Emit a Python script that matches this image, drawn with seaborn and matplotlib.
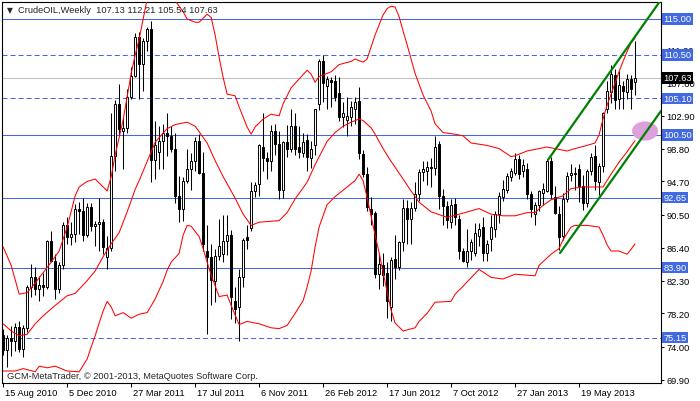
import numpy as np
import pandas as pd
import seaborn as sns
import matplotlib.pyplot as plt
from matplotlib import transforms
from matplotlib.patches import Ellipse

SYMBOL = 'CrudeOIL,Weekly'
FIRST_WEEK = '2010-08-15'

# weekly candles, one value per week starting at FIRST_WEEK
OPEN = [75.5, 73.6, 75.1, 74.7, 76.5, 73.8, 76.4, 81.5, 82.7, 81.3,
        81.8, 81.5, 87.2, 84.8, 81.3, 84.2, 89.2, 87.7, 88.1, 91.3,
        91.0, 88.0, 91.5, 89.1, 89.4, 89.6, 85.3, 86.4, 97.9, 104.4,
        101.0, 101.4, 105.3, 107.9, 112.8, 109.4, 112.3, 113.8, 97.4, 98.4,
        99.8, 100.8, 100.4, 98.8, 92.9, 91.3, 94.8, 96.2, 97.3, 99.8,
        95.8, 86.0, 85.3, 82.3, 85.4, 85.6, 87.2, 88.0, 79.8, 79.0,
        82.7, 87.8, 88.9, 93.5, 94.4, 99.0, 97.6, 97.2, 101.0, 99.4,
        93.6, 99.6, 98.8, 101.6, 99.0, 98.2, 99.9, 97.6, 99.2, 104.4,
        109.8, 106.6, 107.4, 107.2, 105.8, 102.8, 102.4, 102.8, 103.8, 104.8,
        98.1, 95.6, 91.3, 90.8, 83.1, 84.2, 83.2, 79.0, 85.0, 84.0,
        87.1, 91.4, 90.0, 91.4, 93.1, 95.9, 96.0, 96.5, 96.4, 99.4,
        92.9, 91.6, 89.6, 91.9, 90.0, 86.0, 84.6, 86.0, 85.8, 87.9,
        89.0, 85.8, 87.5, 88.8, 90.6, 92.8, 93.6, 95.2, 95.8, 97.5,
        96.0, 96.2, 93.1, 90.6, 91.7, 93.3, 93.5, 97.3, 92.7, 90.6,
        87.9, 92.5, 95.5, 95.6, 96.2, 94.1, 92.0, 96.0, 97.9, 94.6,
        96.6, 103.8, 105.9, 108.0, 105.0, 106.6, 105.9, 107.5, 107.13]
HIGH = [76.2, 75.5, 76.6, 77.0, 77.3, 76.8, 81.8, 84.4, 84.0, 82.9,
        83.3, 87.4, 88.5, 85.6, 84.6, 89.6, 90.2, 89.6, 91.9, 92.1,
        92.6, 92.0, 92.0, 89.8, 92.6, 90.0, 87.9, 103.3, 104.9, 106.9,
        102.6, 106.3, 109.0, 113.2, 113.4, 112.6, 114.0, 114.8, 102.3, 101.6,
        101.9, 103.3, 101.6, 100.8, 95.4, 95.2, 98.8, 98.2, 100.2, 100.6,
        98.4, 89.2, 86.9, 86.2, 90.0, 90.5, 90.5, 88.6, 81.5, 83.7,
        87.6, 89.2, 94.6, 94.6, 99.4, 103.2, 98.4, 101.8, 101.9, 101.0,
        99.8, 101.8, 103.7, 103.2, 101.6, 100.8, 100.6, 99.8, 103.8, 110.0,
        110.5, 107.9, 107.8, 108.0, 107.7, 104.6, 105.2, 104.8, 105.2, 106.5,
        98.6, 96.5, 92.7, 91.0, 85.8, 85.8, 84.6, 85.2, 88.0, 87.3,
        92.5, 92.4, 92.1, 94.6, 96.2, 97.3, 97.2, 97.6, 100.4, 99.8,
        93.8, 92.3, 92.5, 92.6, 90.5, 86.4, 88.8, 87.5, 89.5, 89.5,
        90.3, 87.4, 90.5, 91.0, 93.4, 94.9, 95.8, 96.4, 98.2, 98.0,
        97.5, 97.0, 93.5, 92.1, 93.6, 94.5, 97.5, 97.8, 94.1, 91.6,
        93.3, 95.9, 96.9, 96.5, 96.9, 95.5, 96.3, 98.3, 99.2, 97.0,
        103.4, 107.3, 109.3, 108.7, 108.5, 107.3, 108.1, 108.0, 112.21]
LOW = [73.0, 71.5, 72.9, 73.5, 73.4, 72.8, 75.9, 80.2, 80.5, 79.8,
       80.4, 81.3, 84.6, 80.0, 80.8, 83.8, 86.9, 86.7, 87.1, 88.1,
       87.2, 87.7, 88.5, 86.6, 86.0, 85.6, 83.8, 86.0, 96.0, 100.5,
       96.3, 100.8, 105.0, 107.7, 105.0, 106.0, 111.0, 94.6, 95.0, 96.3,
       96.3, 97.9, 98.4, 92.0, 89.6, 89.8, 94.5, 93.6, 96.0, 95.6,
       86.0, 75.6, 79.2, 79.6, 84.9, 84.6, 85.5, 77.5, 77.0, 74.8,
       81.5, 86.2, 88.5, 92.8, 92.9, 96.0, 95.0, 96.0, 98.0, 92.5,
       92.6, 97.8, 98.4, 98.0, 97.6, 97.7, 96.0, 96.4, 98.0, 103.6,
       104.6, 103.8, 104.0, 104.8, 102.3, 101.5, 100.4, 101.6, 101.9, 97.5,
       95.3, 91.0, 89.2, 82.6, 81.2, 81.6, 77.6, 77.3, 82.5, 83.6,
       86.0, 86.9, 86.9, 91.0, 92.2, 94.8, 94.3, 94.0, 95.5, 91.2,
       89.3, 88.9, 88.9, 89.2, 85.0, 84.6, 84.0, 84.9, 85.4, 86.6,
       84.7, 84.7, 86.0, 87.7, 89.5, 92.2, 93.2, 94.8, 95.5, 95.0,
       95.3, 92.5, 90.3, 89.3, 91.0, 91.8, 93.4, 92.5, 90.6, 86.1,
       87.4, 92.1, 94.7, 93.6, 92.1, 91.1, 91.5, 95.5, 93.6, 93.0,
       95.9, 103.2, 104.5, 103.8, 103.8, 103.8, 105.0, 103.7, 105.54]
CLOSE = [73.6, 75.1, 74.7, 76.5, 73.8, 76.4, 81.5, 82.7, 81.3, 81.8,
         81.5, 87.2, 84.8, 81.3, 84.2, 89.2, 87.7, 88.1, 91.3, 91.0,
         88.0, 91.5, 89.1, 89.4, 89.6, 86.5, 86.4, 97.9, 104.4, 101.2,
         101.4, 105.3, 107.9, 112.8, 109.4, 112.3, 113.8, 97.4, 99.3, 99.8,
         100.8, 100.4, 98.8, 92.9, 91.3, 94.8, 96.2, 97.3, 99.8, 95.8,
         86.9, 85.3, 82.4, 85.4, 86.6, 87.2, 88.0, 80.2, 78.8, 82.7,
         87.4, 87.4, 93.5, 94.3, 99.2, 97.6, 97.2, 101.0, 99.4, 93.6,
         99.6, 98.8, 101.6, 98.7, 98.4, 99.6, 97.7, 98.8, 103.8, 109.8,
         107.0, 107.5, 107.1, 105.3, 102.8, 103.3, 102.9, 104.0, 104.6, 98.3,
         95.6, 91.5, 90.6, 83.1, 84.4, 83.0, 79.8, 84.9, 84.0, 87.1,
         91.4, 90.0, 91.4, 93.1, 95.9, 96.2, 96.5, 96.4, 99.0, 92.9,
         91.6, 89.9, 91.7, 90.2, 86.0, 84.8, 86.0, 87.1, 88.3, 88.8,
         85.8, 86.9, 89.0, 90.6, 92.9, 93.7, 95.4, 96.0, 97.5, 95.6,
         96.8, 93.1, 91.2, 91.8, 93.5, 93.7, 97.3, 93.1, 90.8, 87.8,
         92.5, 95.4, 95.8, 95.8, 94.1, 92.0, 96.0, 97.7, 94.8, 96.6,
         103.2, 106.0, 108.1, 104.9, 106.8, 106.0, 107.5, 106.3, 107.63]

# envelope (upper / middle / lower), read at selected weeks
UPPER_WEEK = [0, 2, 4, 6, 8, 10, 12, 14, 16, 18, 19, 21, 23, 24, 26, 27, 28, 30, 32, 33,
              34, 35, 36, 38, 40, 42, 43, 45, 46, 48, 49, 51, 52, 53, 54, 55, 56, 58, 59, 61,
              62, 63, 65, 67, 69, 70, 72, 74, 76, 77, 78, 79, 82, 84, 87, 88, 90, 91, 92, 93,
              95, 96, 97, 98, 99, 100, 101, 103, 105, 107, 108, 110, 113, 115, 117, 121, 124, 127, 128, 131,
              136, 141, 143, 146, 148, 149, 150, 151, 152, 153, 154, 155, 156, 157, 158]
UPPER_PRICE = [86.5, 84.2, 80.6, 80.8, 82.0, 83.3, 84.6, 86.0, 89.0, 92.9, 94.0, 94.7, 95.0, 94.5, 93.5, 95.3, 98.0, 102.4, 108.2, 110.5,
               112.5, 115.0, 117.5, 119.5, 120.5, 118.8, 117.3, 115.9, 115.0, 114.6, 114.6, 115.6, 115.2, 113.0, 110.2, 107.7, 105.6, 105.4, 104.0, 101.5,
               100.6, 101.5, 102.5, 103.1, 102.9, 104.4, 106.4, 107.5, 108.6, 108.1, 107.1, 107.8, 108.4, 109.3, 109.7, 110.0, 109.6, 110.0, 111.5, 113.0,
               115.5, 116.3, 116.6, 116.5, 115.3, 113.5, 111.8, 108.2, 105.5, 103.5, 101.9, 100.8, 100.6, 100.4, 99.5, 99.2, 98.8, 97.8, 97.9, 98.5,
               99.0, 98.5, 98.8, 99.2, 99.5, 100.5, 102.5, 104.2, 105.6, 107.0, 108.4, 109.7, 110.9, 112.0, 112.6]
MIDDLE_WEEK = [0, 2, 4, 6, 8, 10, 13, 16, 18, 21, 23, 25, 27, 29, 31, 33, 34, 36, 38, 41,
               43, 46, 48, 49, 51, 53, 54, 55, 57, 58, 60, 62, 64, 69, 71, 73, 76, 78, 81, 83,
               85, 87, 89, 90, 92, 93, 95, 97, 100, 102, 103, 104, 107, 111, 114, 119, 122, 125, 128, 131,
               133, 135, 137, 140, 142, 145, 148, 150, 152, 154, 156, 158]
MIDDLE_PRICE = [76.9, 76.0, 75.4, 75.6, 76.9, 77.9, 79.2, 80.4, 80.7, 82.3, 83.5, 85.3, 86.9, 88.3, 90.9, 93.7, 94.8, 97.2, 99.6, 101.3,
                101.8, 102.1, 101.6, 100.9, 99.5, 97.3, 96.3, 95.3, 93.5, 92.6, 90.6, 89.2, 89.6, 89.8, 90.8, 92.5, 94.6, 96.8, 99.7, 100.8,
                101.6, 102.1, 102.5, 102.3, 101.4, 100.6, 98.8, 97.2, 95.0, 93.5, 92.8, 92.1, 90.9, 90.2, 90.6, 91.3, 90.6, 90.4, 90.4, 90.8,
                90.8, 91.7, 92.4, 92.9, 93.8, 94.0, 94.0, 94.0, 95.6, 97.1, 98.4, 99.8]
LOWER_WEEK = [0, 3, 5, 8, 9, 11, 13, 16, 19, 21, 22, 23, 24, 25, 26, 27, 28, 30, 32, 34,
              36, 38, 40, 41, 42, 44, 45, 46, 47, 49, 50, 51, 52, 54, 56, 57, 59, 61, 64, 67,
              69, 71, 73, 75, 76, 77, 78, 79, 81, 83, 85, 88, 89, 90, 91, 93, 94, 96, 97, 98,
              100, 103, 104, 106, 108, 112, 113, 115, 119, 122, 125, 128, 133, 134, 137, 139, 140, 142, 143, 146,
              149, 150, 151, 152, 154, 156, 157, 158]
LOWER_PRICE = [71.0, 71.0, 71.3, 70.9, 71.6, 71.4, 71.6, 71.0, 70.9, 72.5, 74.0, 75.4, 77.0, 78.5, 79.7, 79.0, 77.9, 78.3, 77.6, 78.1,
               78.3, 80.0, 82.2, 83.6, 84.6, 85.7, 88.0, 89.2, 89.1, 87.8, 86.3, 84.6, 83.0, 80.3, 80.5, 79.2, 76.8, 77.2, 76.9, 76.4,
               76.3, 76.7, 78.2, 79.8, 81.5, 83.5, 86.5, 89.0, 91.8, 92.8, 93.6, 94.8, 95.6, 94.8, 92.7, 88.0, 85.8, 80.9, 78.6, 77.0,
               76.0, 76.4, 77.2, 78.2, 79.6, 79.7, 80.6, 81.6, 83.7, 82.7, 82.5, 83.1, 82.9, 84.2, 85.6, 86.3, 87.4, 89.0, 89.2, 89.2,
               89.0, 88.0, 86.8, 86.0, 86.0, 85.6, 86.2, 86.9]

# rising channel, two anchor points each (week, price)
CHANNEL_TOP_WEEK = [136.25, 164.5]
CHANNEL_TOP_PRICE = [97.4, 117.4]
CHANNEL_BOTTOM_WEEK = [139.25, 164.5]
CHANNEL_BOTTOM_PRICE = [85.75, 103.5]

MARK_WEEK = 160.5
MARK_PRICE = 101.0

SOLID_LEVELS = [115.00, 100.50, 92.65, 83.90]
DASHED_LEVELS = [110.50, 105.10, 75.15]
PRICE_TICKS = [69.90, 74.00, 78.20, 82.30, 86.40, 90.50, 94.70, 98.80, 102.90, 107.00, 111.20]

BLUE = '#4169e1'
FS = 6.7

sns.set_style('white')
plt.rcParams['font.family'] = ['Liberation Sans', 'DejaVu Sans']

fig = plt.figure(figsize=(7, 4.02), dpi=100)
ax = fig.add_axes([2 / 700, 18 / 402, 659 / 700, 381 / 402])

weeks = np.arange(len(OPEN))
o, h, l, c = (np.array(v) for v in (OPEN, HIGH, LOW, CLOSE))

# horizontal levels
for lvl in SOLID_LEVELS:
    ax.axhline(lvl, color=BLUE, lw=0.75, zorder=1)
for lvl in DASHED_LEVELS:
    ax.axhline(lvl, color=BLUE, lw=0.75, ls=(0, (4.8, 2.9)), zorder=1)
ax.axhline(c[-1], color='#c0c0c0', lw=0.75, zorder=1)

# candles
ax.vlines(weeks, l, h, color='black', lw=0.75, zorder=3)
fill = np.where(c >= o, 'white', 'black')
ax.bar(weeks, np.maximum(np.abs(c - o), 0.08), bottom=np.minimum(o, c), width=0.62,
       color=fill, edgecolor='black', linewidth=0.7, zorder=3.5)

# envelope lines
bands = pd.concat([
    pd.DataFrame({'week': UPPER_WEEK, 'price': UPPER_PRICE, 'band': 'upper'}),
    pd.DataFrame({'week': MIDDLE_WEEK, 'price': MIDDLE_PRICE, 'band': 'middle'}),
    pd.DataFrame({'week': LOWER_WEEK, 'price': LOWER_PRICE, 'band': 'lower'}),
])
sns.lineplot(data=bands, x='week', y='price', units='band', estimator=None,
             color='red', lw=0.75, ax=ax, legend=False, zorder=4)

ax.add_patch(Ellipse((MARK_WEEK, MARK_PRICE), 6.5, 2.4, fc='#dda0dd', ec='none', zorder=5))

channel = pd.concat([
    pd.DataFrame({'week': CHANNEL_TOP_WEEK, 'price': CHANNEL_TOP_PRICE, 'line': 'top'}),
    pd.DataFrame({'week': CHANNEL_BOTTOM_WEEK, 'price': CHANNEL_BOTTOM_PRICE, 'line': 'bottom'}),
])
sns.lineplot(data=channel, x='week', y='price', units='line', estimator=None,
             color='#008000', lw=1.6, ax=ax, legend=False, zorder=6)

# axes
ax.set_xlim(-0.3, 164.5)
ax.set_ylim(69.5, 117.125)
ax.set_xlabel('')
ax.set_ylabel('')
ax.yaxis.tick_right()
ax.set_yticks(PRICE_TICKS)
ax.set_yticklabels([f'{t:.2f}' for t in PRICE_TICKS])
dates = pd.date_range(FIRST_WEEK, periods=len(OPEN), freq='7D')
pos = weeks[::16]
ax.set_xticks(pos)
ax.set_xticklabels([f'{d.day} {d:%b %Y}' for d in dates[pos]])
ax.tick_params(axis='both', labelsize=FS, colors='black', direction='out', width=0.75)
ax.tick_params(axis='x', bottom=True, length=3.2, pad=0.5)
ax.tick_params(axis='y', right=True, left=False, length=2.5, pad=1.5)
shift = transforms.ScaledTranslation(1.5 / 100, 0, fig.dpi_scale_trans)
for lab in ax.get_xticklabels():
    lab.set_ha('left')
    lab.set_transform(lab.get_transform() + shift)
for s in ax.spines.values():
    s.set_color('black')
    s.set_linewidth(0.8)

# price boxes on the right scale
trans = transforms.blended_transform_factory(ax.transAxes, ax.transData)
for lvl in SOLID_LEVELS + DASHED_LEVELS:
    ax.text(1 + 2.5 / 659, lvl, f'{lvl:.2f}', transform=trans, color='white', fontsize=FS,
            va='center', ha='left', clip_on=False, zorder=10,
            bbox=dict(boxstyle='square,pad=0.12', fc=BLUE, ec='none'))
ax.text(1 + 2.5 / 659, c[-1], f'{c[-1]:.2f}', transform=trans, color='white', fontsize=FS,
        va='center', ha='left', clip_on=False, zorder=10,
        bbox=dict(boxstyle='square,pad=0.12', fc='black', ec='none'))

# header and watermark
fig.text(10 / 700, 1 - 11 / 402, '\u25bc', fontsize=5.5, ha='center', va='center',
         family=['DejaVu Sans'])
fig.text(18 / 700, 1 - 10.5 / 402,
         f'{SYMBOL}  {o[-1]:.2f} {h[-1]:.2f} {l[-1]:.2f} {c[-1]:.2f}',
         fontsize=FS, va='center', ha='left', zorder=10)
fig.text(7 / 700, 1 - 377 / 402, 'GCM-MetaTrader, \u00a9 2001-2013, MetaQuotes Software Corp.',
         fontsize=FS, va='center', ha='left', zorder=10)

fig.savefig('out.png', dpi=100)
